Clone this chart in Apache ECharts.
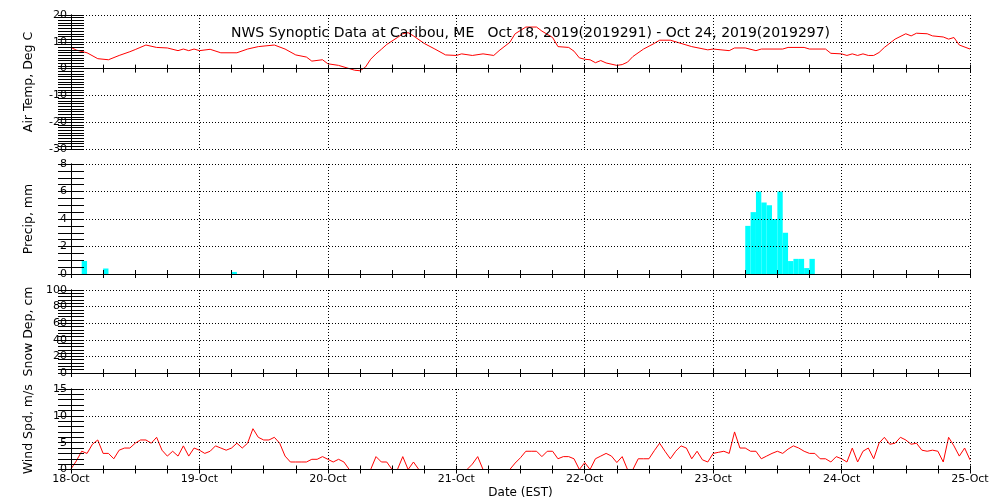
<!DOCTYPE html>
<html><head><meta charset="utf-8">
<script src="https://cdn.jsdelivr.net/npm/echarts@6/dist/echarts.min.js"></script>
<style>html,body{margin:0;padding:0;background:#fff}#c{width:1000px;height:500px}</style>
</head><body><div id="c"></div>
<script>
// Hours since 18-Oct-2019 00:00 EST
const dayLabels = ['18-Oct','19-Oct','20-Oct','21-Oct','22-Oct','23-Oct','24-Oct','25-Oct'];
const titleText = 'NWS Synoptic Data at Caribou, ME   Oct 18, 2019(2019291) - Oct 24, 2019(2019297)';

const tempHours = [0,1,3,5,7,9,11,12,14,16,18,20,21,22,23,24,26,28,31,33,35,38,40,42,44,45,47,48,50,52,53,54,55,56,57,58,59,61,62,63,64,66,68,70,72,73,74,75,77,79,80,82,83,85,87,88,90,91,93,94,95,96,97,98,99,100,102,103,104,105,107,109,110,112,114,116,119,120,123,124,126,128,129,133,134,137,138,141,142,144,145,146,147,148,149,150,151,152,154,156,157,158,160,161,163,164,165,166,168];
const tempValues = [7.9,6.9,5.9,3.7,3.3,4.9,6.3,7.1,8.8,7.9,7.7,6.7,7.3,6.7,7.3,6.7,7.2,5.9,5.9,7.3,8.2,8.8,7.3,5.1,4.3,2.8,3.3,1.8,1.2,0,-0.6,-0.8,0.5,3.5,5.5,7.2,9.0,11.6,13.0,13.4,12.2,9.4,7.3,5.1,4.9,5.5,5.2,4.9,5.5,4.9,6.7,9.8,13.0,15.5,15.5,14.0,11.6,8.2,7.9,6.5,4.0,3.5,3.3,2.2,3.0,2.1,1.2,1.5,2.4,4.5,7.3,9.4,10.6,10.6,9.4,8.2,7.0,7.3,6.7,7.7,7.7,6.7,7.3,7.3,7.9,7.9,7.3,7.3,5.7,5.5,4.9,5.5,4.9,5.5,4.9,4.9,6.0,7.9,11.0,13.0,12.2,13.2,13.0,12.2,11.8,11.0,11.6,8.8,7.3];

const precipHours = [2,6,30,126,127,128,129,130,131,132,133,134,135,136,137,138];
const precipValues = [0.95,0.4,0.15,3.5,4.5,6.0,5.2,5.0,4.0,6.0,3.0,0.94,1.1,1.1,0.43,1.1];

// hourly wind speed, index = hour
const windValues = [0.1,1.6,3.4,3.0,4.7,5.5,3.0,3.0,2.0,3.6,4.0,4.0,4.9,5.5,5.5,4.9,6.0,3.6,2.5,3.4,2.5,4.4,2.5,4.0,
3.6,3.0,3.4,4.4,4.0,3.6,4.0,4.9,4.0,4.9,7.6,6.0,5.5,5.5,6.0,4.9,2.5,1.4,1.4,1.4,1.4,1.9,1.9,2.4,
1.9,1.4,1.9,1.4,0,0,0,0,0,2.4,1.4,1.4,0,0,2.4,0,1.4,0,0,0,0,0,0,0,
0,0,0,1.0,2.4,0,0,0,0,0,0,1.2,2.2,3.4,3.4,3.4,2.4,3.4,3.4,2.0,2.4,2.4,2.0,0,
1.3,0,2.0,2.5,3.0,2.5,1.3,2.4,0,0,2.0,2.0,2.0,3.5,4.9,3.4,2.0,3.4,4.4,4.0,2.0,3.4,1.8,1.4,
3.0,3.2,3.4,3.0,7.0,4.0,4.0,3.4,3.4,2.0,2.5,3.0,3.4,3.0,3.8,4.4,4.0,3.4,3.0,3.0,2.0,2.0,1.4,2.4,
2.0,1.4,4.0,1.4,3.4,4.0,2.0,4.9,6.0,4.7,4.9,6.0,5.5,4.7,4.9,3.6,3.4,3.6,3.4,1.4,6.0,4.4,2.5,4.0,1.8];

const tempPairs = tempHours.map((h,i)=>[h,tempValues[i]]);
const precipPairs = precipHours.map((h,i)=>[h,precipValues[i]]);
const windPairs = windValues.map((v,i)=>[i,v]);

const FONT = 'DejaVu Sans';
const black = '#000';
const dotted = {color: black, width: 1, type: [1, 2]};

const panels = [
  {top: 15, height: 134, min: -30, max: 20, interval: 10, minor: 10, name: 'Air Temp, Deg C'},
  {top: 164, height: 110, min: 0, max: 8, interval: 2, minor: 4, name: 'Precip, mm'},
  {top: 290, height: 83, min: 0, max: 100, interval: 20, minor: 5, name: 'Snow Dep, cm'},
  {top: 389, height: 80.5, min: 0, max: 15, interval: 5, minor: 5, name: 'Wind Spd, m/s'}
];

const grid = [], xAxis = [], yAxis = [];
panels.forEach((p, i) => {
  grid.push({left: 71, width: 899, top: p.top, height: p.height, show: false});
  const last = i === panels.length - 1;
  const baseX = {
    type: 'value', gridIndex: i, min: 0, max: 168, interval: 24, z: 3,
    axisLine: {show: true, lineStyle: {color: black, width: 1}},
    axisTick: {show: true, inside: true, length: 4, lineStyle: {color: black}},
    minorTick: {show: true, splitNumber: 4, length: 4, lineStyle: {color: black}},
    splitLine: {show: false}
  };
  xAxis.push(Object.assign({}, baseX, {
    position: 'bottom',
    splitLine: {show: true, lineStyle: dotted},
    axisLabel: {show: last, color: black, fontFamily: FONT, fontSize: 11, margin: 4,
      formatter: v => dayLabels[Math.round(v / 24)] || ''},
    name: last ? 'Date (EST)' : '', nameLocation: 'middle', nameGap: 17,
    nameTextStyle: {color: black, fontFamily: FONT, fontSize: 12}
  }));
  xAxis.push(Object.assign({}, baseX, {position: 'top', axisLabel: {show: false}}));
  const baseY = {
    type: 'value', gridIndex: i, min: p.min, max: p.max, interval: p.interval, z: 3,
    axisLine: {show: true, lineStyle: {color: black, width: 1}},
    axisTick: {show: true, inside: true, length: 13, lineStyle: {color: black}},
    minorTick: {show: true, splitNumber: p.minor, length: 13, lineStyle: {color: black}},
    splitLine: {show: false}
  };
  yAxis.push(Object.assign({}, baseY, {
    position: 'left',
    splitLine: {show: true, lineStyle: dotted},
    axisLabel: {color: black, fontFamily: FONT, fontSize: 11, margin: 4},
    name: p.name, nameLocation: 'middle', nameGap: 36, nameRotate: 90,
    nameTextStyle: {color: black, fontFamily: FONT, fontSize: 12.5}
  }));
  yAxis.push(Object.assign({}, baseY, {position: 'right', axisLabel: {show: false}}));
});

const option = {
  animation: false,
  backgroundColor: '#fff',
  title: {text: titleText, left: 226, top: 21,
    textStyle: {color: black, fontFamily: FONT, fontSize: 14, fontWeight: 'normal'}},
  grid, xAxis, yAxis,
  series: [
    {type: 'line', xAxisIndex: 0, yAxisIndex: 0, data: tempPairs, showSymbol: false,
      lineStyle: {color: '#ff0000', width: 1}, z: 2},
    {type: 'custom', xAxisIndex: 2, yAxisIndex: 2, data: precipPairs, z: 2,
      encode: {x: 0, y: 1},
      renderItem: function (params, api) {
        const h = api.value(0), v = api.value(1);
        const p0 = api.coord([h, v]);
        const p1 = api.coord([h + 1, 0]);
        return {type: 'rect', shape: {x: p0[0], y: p0[1], width: p1[0] - p0[0], height: p1[1] - p0[1]},
          style: {fill: '#00ffff'}};
      }},
    {type: 'line', xAxisIndex: 6, yAxisIndex: 6, data: windPairs, showSymbol: false,
      lineStyle: {color: '#ff0000', width: 1}, z: 2}
  ]
};
const chart = echarts.init(document.getElementById('c'), null, {renderer: 'canvas'});
chart.setOption(option);
</script></body></html>
